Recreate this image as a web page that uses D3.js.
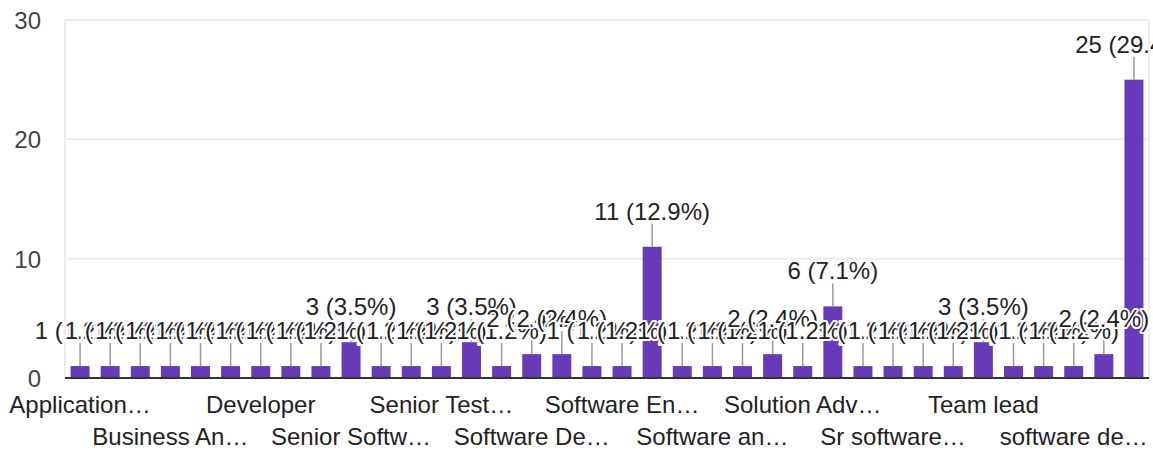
<!DOCTYPE html>
<html>
<head>
<meta charset="utf-8">
<script src="https://cdn.jsdelivr.net/npm/d3@7"></script>
<style>
  body { margin: 0; background: #fff; }
  svg { display: block; font-family: Arial, "Liberation Sans", sans-serif; }
</style>
</head>
<body>
<div id="chart"></div>
<script>
const categories = [
  'Application Developer', 'Associate Engineer', 'Automation Tester', 'Business Analyst',
  'Data Analyst', 'DevOps Engineer', 'Developer', 'Full Stack Developer', 'QA Engineer',
  'Senior Software Engineer', 'Senior Systems Engineer', 'Senior Technical Lead',
  'Senior Test Engineer', 'Software Analyst', 'Software Consultant', 'Software Developer',
  'Software Development Engineer', 'Software Engg', 'Software Engineer', 'Software Engineer ',
  'Software Tester', 'Software analyst', 'Software developer', 'Software engineer',
  'Solution Advisor', 'Solution Architect', 'Sr Software Engineer', 'Sr software engineer',
  'Systems Engineer', 'Team Lead', 'Team lead', 'Technical Lead', 'Test Engineer',
  'software developer', 'software development', 'software engineer'
];
const counts = [
  1, 1, 1, 1, 1, 1, 1, 1, 1, 3, 1, 1, 1, 3, 1, 2, 2, 1,
  1, 11, 1, 1, 1, 2, 1, 6, 1, 1, 1, 1, 3, 1, 1, 1, 2, 25
];
const yTicks = [0, 10, 20, 30];

const W = 1153, H = 451;
const m = { left: 65, right: 1149, top: 20, bottom: 378 };
const fs = 24;
const total = d3.sum(counts);
const data = categories.map((c, i) => ({ i, name: c, value: counts[i] }));

const svg = d3.select('#chart').append('svg')
  .attr('width', W)
  .attr('height', H);

const x = d3.scaleBand()
  .domain(d3.range(categories.length))
  .range([m.left, m.right])
  .paddingInner(0.37)
  .paddingOuter(0.185);

const y = d3.scaleLinear()
  .domain([0, 30])
  .range([m.bottom, m.top]);

// grid
svg.append('g')
  .selectAll('line')
  .data(yTicks.filter(t => t > 0))
  .join('line')
  .attr('x1', m.left).attr('x2', m.right)
  .attr('y1', d => y(d)).attr('y2', d => y(d))
  .attr('stroke', '#ececec')
  .attr('stroke-width', 2);

svg.append('line')
  .attr('x1', m.left).attr('x2', m.left)
  .attr('y1', m.top).attr('y2', m.bottom)
  .attr('stroke', '#ececec').attr('stroke-width', 2);
svg.append('line')
  .attr('x1', m.right).attr('x2', m.right)
  .attr('y1', m.top).attr('y2', m.bottom)
  .attr('stroke', '#ececec').attr('stroke-width', 2);

// y axis labels
const yAxis = svg.append('g')
  .attr('transform', `translate(${m.left - 24},0)`)
  .call(d3.axisLeft(y).tickValues(yTicks).tickSize(0).tickPadding(0));
yAxis.select('.domain').remove();
yAxis.selectAll('text')
  .attr('font-size', fs)
  .attr('font-family', 'Arial, "Liberation Sans", sans-serif')
  .attr('fill', '#444')
  .attr('dy', '0.35em');

// bars
svg.append('g')
  .selectAll('rect')
  .data(data)
  .join('rect')
  .attr('x', d => x(d.i))
  .attr('y', d => y(d.value))
  .attr('width', x.bandwidth())
  .attr('height', d => y(0) - y(d.value))
  .attr('fill', '#673ab7');

// zero line
svg.append('line')
  .attr('x1', m.left).attr('x2', m.right)
  .attr('y1', y(0)).attr('y2', y(0))
  .attr('stroke', '#333')
  .attr('stroke-width', 2);

// leader lines
svg.append('g')
  .selectAll('line')
  .data(data)
  .join('line')
  .attr('x1', d => x(d.i) + x.bandwidth() / 2)
  .attr('x2', d => x(d.i) + x.bandwidth() / 2)
  .attr('y1', d => y(d.value))
  .attr('y2', d => y(d.value) - 23)
  .attr('stroke', '#999')
  .attr('stroke-width', 1.5);

// value annotations, each drawn over the previous with a white halo
const ann = svg.append('g')
  .attr('font-size', fs)
  .attr('text-anchor', 'middle');
data.forEach(d => {
  ann.append('text')
    .attr('x', x(d.i) + x.bandwidth() / 2)
    .attr('y', y(d.value) - 27)
    .attr('fill', '#222')
    .attr('stroke', '#fff')
    .attr('stroke-width', 4)
    .attr('stroke-linejoin', 'round')
    .attr('paint-order', 'stroke')
    .text(`${d.value} (${(d.value / total * 100).toFixed(1)}%)`);
});

// category labels: every third, staggered over two rows
const maxW = 162;
const xl = svg.append('g')
  .attr('font-size', fs)
  .attr('text-anchor', 'middle')
  .attr('fill', '#222');
data.filter(d => d.i % 3 === 0).forEach((d, k) => {
  const cx = x(d.i) + x.bandwidth() / 2;
  const room = Math.min(maxW, 2 * (W - 4 - cx));
  const t = xl.append('text')
    .attr('x', cx)
    .attr('y', k % 2 === 0 ? 413 : 445)
    .text(d.name);
  let s = d.name;
  while (t.node().getComputedTextLength() > room && s.length > 1) {
    s = s.slice(0, -1);
    t.text(s.trimEnd() + '…');
  }
});
</script>
</body>
</html>
